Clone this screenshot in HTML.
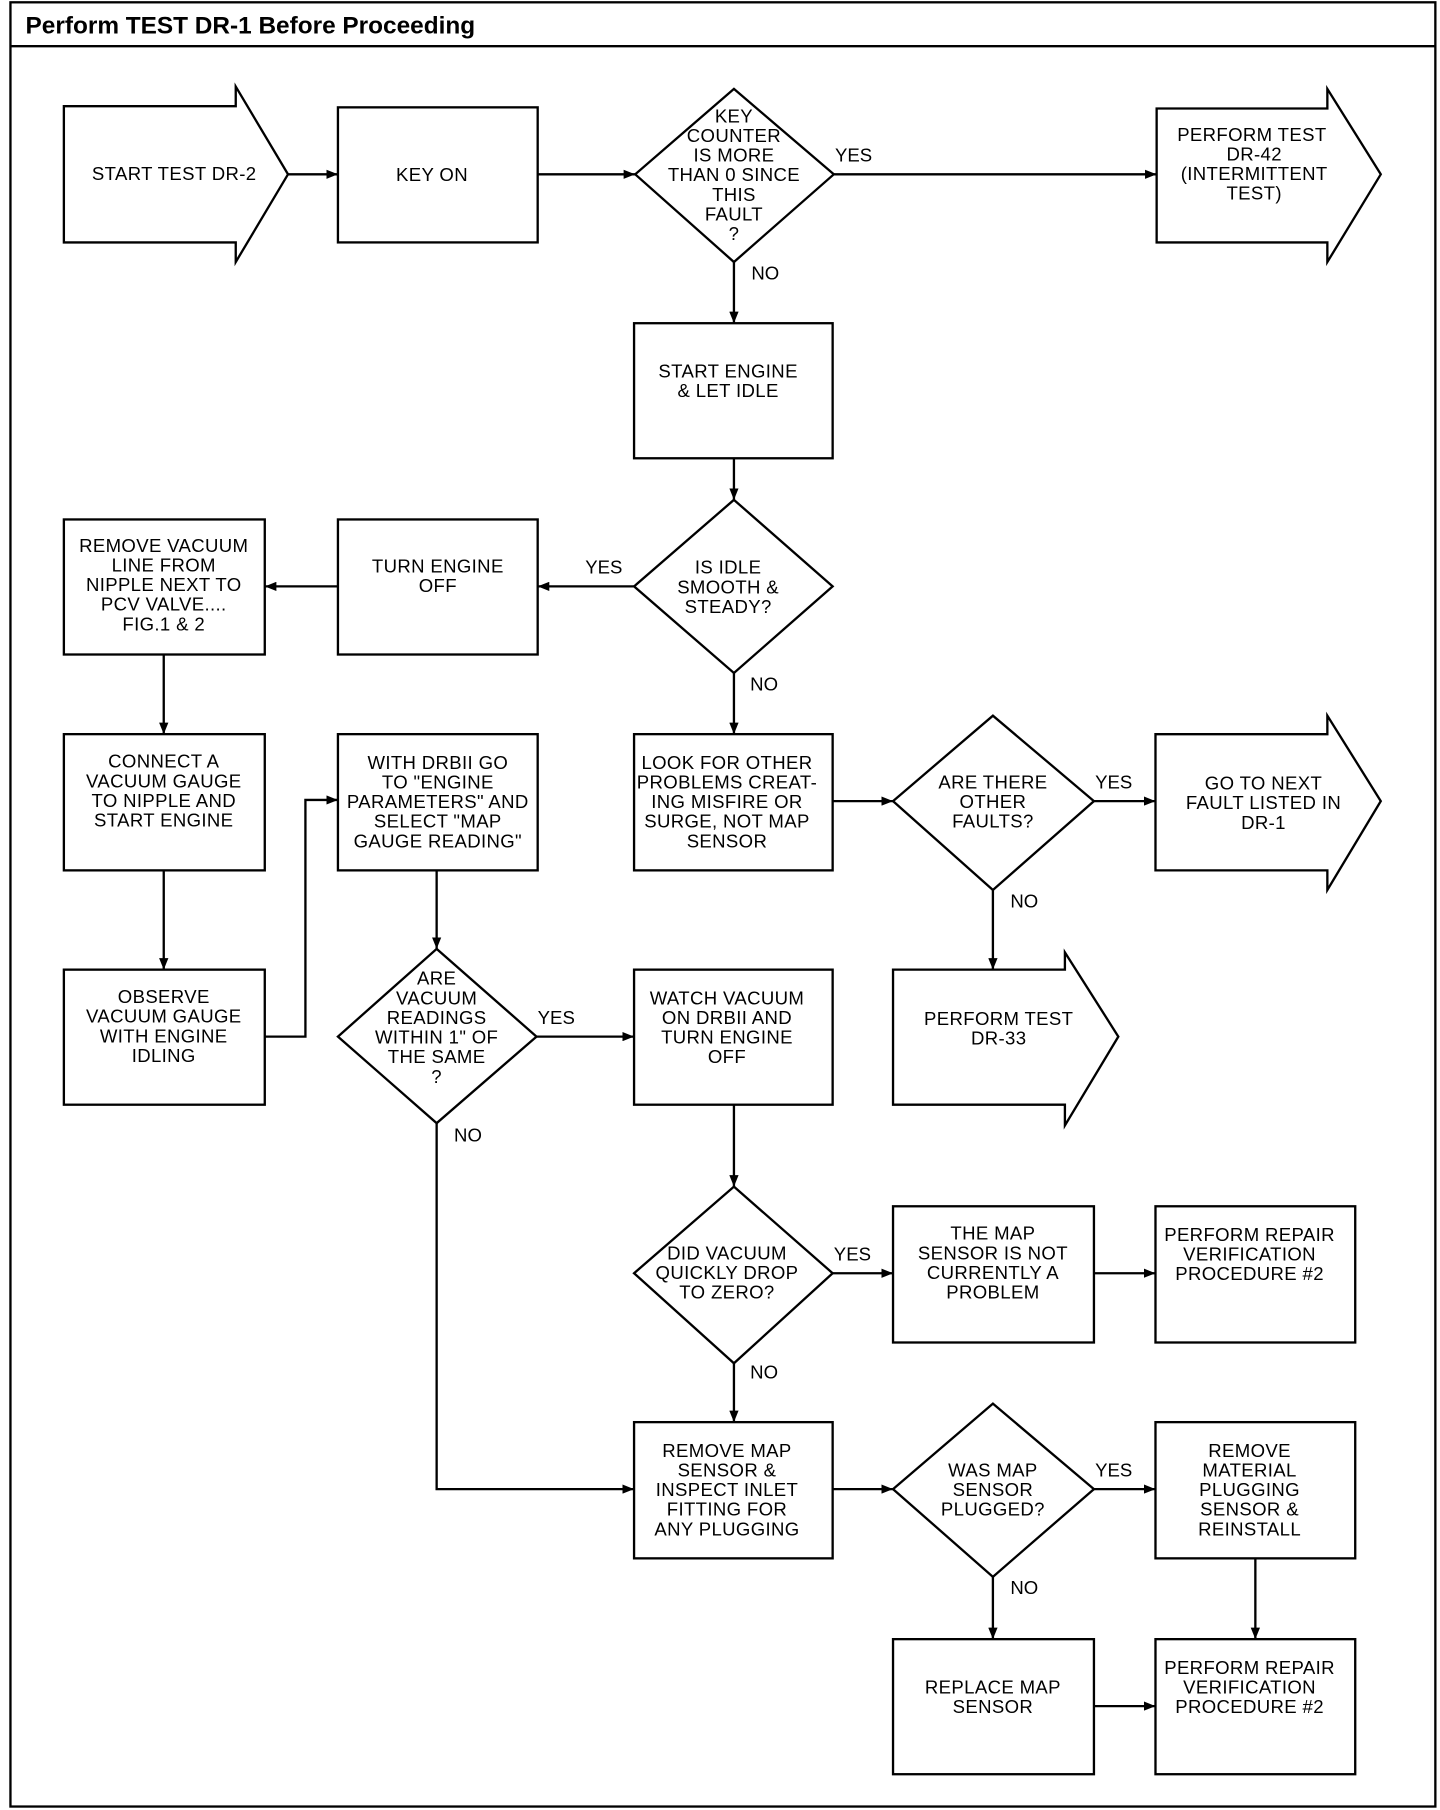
<!DOCTYPE html>
<html><head><meta charset="utf-8"><style>
html,body{margin:0;padding:0;background:#fff;}
svg{display:block;}
text{font-family:"Liberation Sans",sans-serif;fill:#000;}
.t{font-size:16px;text-anchor:middle;letter-spacing:0.3px;}
.l{font-size:16px;}
</style></head><body>
<svg width="1440" height="1810" viewBox="0 0 1240 1568" preserveAspectRatio="none" xmlns="http://www.w3.org/2000/svg">
<defs><marker id="a" markerWidth="10" markerHeight="8" refX="10" refY="4" orient="auto" markerUnits="userSpaceOnUse"><path d="M0,0 L10,4 L0,8 z" fill="#000"/></marker></defs>
<rect x="9" y="2" width="1227" height="1563" fill="none" stroke="#000" stroke-width="2"/>
<line x1="9" y1="40" x2="1236" y2="40" stroke="#000" stroke-width="2"/>
<text x="22" y="29" style="font-size:21px;font-weight:bold">Perform TEST DR-1 Before Proceeding</text>
<g fill="none" stroke="#000" stroke-width="2">
<polygon points="55,92 203,92 203,75 248,151 203,227 203,210 55,210"/>
<rect x="291" y="93" width="172" height="117"/>
<polygon points="632,77 718,151 632,227 547,151"/>
<polygon points="996,94 1143,94 1143,77 1189,151 1143,227 1143,210 996,210"/>
<rect x="546" y="280" width="171" height="117"/>
<polygon points="632,433 717,508 632,583 546,508"/>
<rect x="291" y="450" width="172" height="117"/>
<rect x="55" y="450" width="173" height="117"/>
<rect x="55" y="636" width="173" height="118"/>
<rect x="55" y="840" width="173" height="117"/>
<rect x="291" y="636" width="172" height="118"/>
<polygon points="376,822 462,898 376,973 291,898"/>
<rect x="546" y="636" width="171" height="118"/>
<polygon points="855,620 942,694 855,771 769,694"/>
<polygon points="995,636 1143,636 1143,620 1189,694 1143,771 1143,754 995,754"/>
<polygon points="769,840 917,840 917,825 963,898 917,975 917,957 769,957"/>
<rect x="546" y="840" width="171" height="117"/>
<polygon points="632,1028 717,1103 632,1181 546,1103"/>
<rect x="769" y="1045" width="173" height="118"/>
<rect x="995" y="1045" width="172" height="118"/>
<rect x="546" y="1232" width="171" height="118"/>
<polygon points="855,1216 942,1290 855,1366 769,1290"/>
<rect x="995" y="1232" width="172" height="118"/>
<rect x="995" y="1420" width="172" height="117"/>
<rect x="769" y="1420" width="173" height="117"/>
</g>
<g fill="none" stroke="#000" stroke-width="2" marker-end="url(#a)">
<line x1="248" y1="151" x2="291" y2="151"/>
<line x1="463" y1="151" x2="547" y2="151"/>
<line x1="718" y1="151" x2="996" y2="151"/>
<line x1="632" y1="227" x2="632" y2="280"/>
<line x1="632" y1="397" x2="632" y2="433"/>
<line x1="546" y1="508" x2="463" y2="508"/>
<line x1="291" y1="508" x2="228" y2="508"/>
<line x1="141" y1="567" x2="141" y2="636"/>
<line x1="141" y1="754" x2="141" y2="840"/>
<polyline points="228,898 263,898 263,693 291,693"/>
<line x1="376" y1="754" x2="376" y2="822"/>
<line x1="462" y1="898" x2="546" y2="898"/>
<polyline points="376,973 376,1290 546,1290"/>
<line x1="632" y1="583" x2="632" y2="636"/>
<line x1="717" y1="694" x2="769" y2="694"/>
<line x1="942" y1="694" x2="995" y2="694"/>
<line x1="855" y1="771" x2="855" y2="840"/>
<line x1="632" y1="957" x2="632" y2="1028"/>
<line x1="717" y1="1103" x2="769" y2="1103"/>
<line x1="942" y1="1103" x2="995" y2="1103"/>
<line x1="632" y1="1181" x2="632" y2="1232"/>
<line x1="717" y1="1290" x2="769" y2="1290"/>
<line x1="942" y1="1290" x2="995" y2="1290"/>
<line x1="1081" y1="1350" x2="1081" y2="1420"/>
<line x1="855" y1="1366" x2="855" y2="1420"/>
<line x1="942" y1="1478" x2="995" y2="1478"/>
</g>
<g class="t">
<text x="150" y="156">START TEST DR-2</text>
<text x="372" y="157">KEY ON</text>
<text x="632" y="106">KEY</text><text x="632" y="123">COUNTER</text><text x="632" y="140">IS MORE</text><text x="632" y="157">THAN 0 SINCE</text><text x="632" y="174">THIS</text><text x="632" y="191">FAULT</text><text x="632" y="208">?</text>
<text x="1078" y="122">PERFORM TEST</text><text x="1080" y="139">DR-42</text><text x="1080" y="156">(INTERMITTENT</text><text x="1080" y="173">TEST)</text>
<text x="627" y="327">START ENGINE</text><text x="627" y="344">&amp; LET IDLE</text>
<text x="627" y="497">IS IDLE</text><text x="627" y="514">SMOOTH &amp;</text><text x="627" y="531">STEADY?</text>
<text x="377" y="496">TURN ENGINE</text><text x="377" y="513">OFF</text>
<text x="141" y="478">REMOVE VACUUM</text><text x="141" y="495">LINE FROM</text><text x="141" y="512">NIPPLE NEXT TO</text><text x="141" y="529">PCV VALVE....</text><text x="141" y="546">FIG.1 &amp; 2</text>
<text x="141" y="665">CONNECT A</text><text x="141" y="682">VACUUM GAUGE</text><text x="141" y="699">TO NIPPLE AND</text><text x="141" y="716">START ENGINE</text>
<text x="141" y="869">OBSERVE</text><text x="141" y="886">VACUUM GAUGE</text><text x="141" y="903">WITH ENGINE</text><text x="141" y="920">IDLING</text>
<text x="377" y="666">WITH DRBII GO</text><text x="377" y="683">TO "ENGINE</text><text x="377" y="700">PARAMETERS" AND</text><text x="377" y="717">SELECT "MAP</text><text x="377" y="734">GAUGE READING"</text>
<text x="376" y="853">ARE</text><text x="376" y="870">VACUUM</text><text x="376" y="887">READINGS</text><text x="376" y="904">WITHIN 1" OF</text><text x="376" y="921">THE SAME</text><text x="376" y="938">?</text>
<text x="626" y="666">LOOK FOR OTHER</text><text x="626" y="683">PROBLEMS CREAT-</text><text x="626" y="700">ING MISFIRE OR</text><text x="626" y="717">SURGE, NOT MAP</text><text x="626" y="734">SENSOR</text>
<text x="855" y="683">ARE THERE</text><text x="855" y="700">OTHER</text><text x="855" y="717">FAULTS?</text>
<text x="1088" y="684">GO TO NEXT</text><text x="1088" y="701">FAULT LISTED IN</text><text x="1088" y="718">DR-1</text>
<text x="860" y="888">PERFORM TEST</text><text x="860" y="905">DR-33</text>
<text x="626" y="870">WATCH VACUUM</text><text x="626" y="887">ON DRBII AND</text><text x="626" y="904">TURN ENGINE</text><text x="626" y="921">OFF</text>
<text x="626" y="1091">DID VACUUM</text><text x="626" y="1108">QUICKLY DROP</text><text x="626" y="1125">TO ZERO?</text>
<text x="855" y="1074">THE MAP</text><text x="855" y="1091">SENSOR IS NOT</text><text x="855" y="1108">CURRENTLY A</text><text x="855" y="1125">PROBLEM</text>
<text x="1076" y="1075">PERFORM REPAIR</text><text x="1076" y="1092">VERIFICATION</text><text x="1076" y="1109">PROCEDURE #2</text>
<text x="626" y="1262">REMOVE MAP</text><text x="626" y="1279">SENSOR &amp;</text><text x="626" y="1296">INSPECT INLET</text><text x="626" y="1313">FITTING FOR</text><text x="626" y="1330">ANY PLUGGING</text>
<text x="855" y="1279">WAS MAP</text><text x="855" y="1296">SENSOR</text><text x="855" y="1313">PLUGGED?</text>
<text x="1076" y="1262">REMOVE</text><text x="1076" y="1279">MATERIAL</text><text x="1076" y="1296">PLUGGING</text><text x="1076" y="1313">SENSOR &amp;</text><text x="1076" y="1330">REINSTALL</text>
<text x="855" y="1467">REPLACE MAP</text><text x="855" y="1484">SENSOR</text>
<text x="1076" y="1450">PERFORM REPAIR</text><text x="1076" y="1467">VERIFICATION</text><text x="1076" y="1484">PROCEDURE #2</text>
</g>
<g class="l">
<text x="719" y="140">YES</text><text x="647" y="242">NO</text>
<text x="504" y="497">YES</text><text x="646" y="598">NO</text>
<text x="463" y="887">YES</text><text x="391" y="989">NO</text>
<text x="943" y="683">YES</text><text x="870" y="786">NO</text>
<text x="718" y="1092">YES</text><text x="646" y="1194">NO</text>
<text x="943" y="1279">YES</text><text x="870" y="1381">NO</text>
</g>
</svg>
</body></html>
